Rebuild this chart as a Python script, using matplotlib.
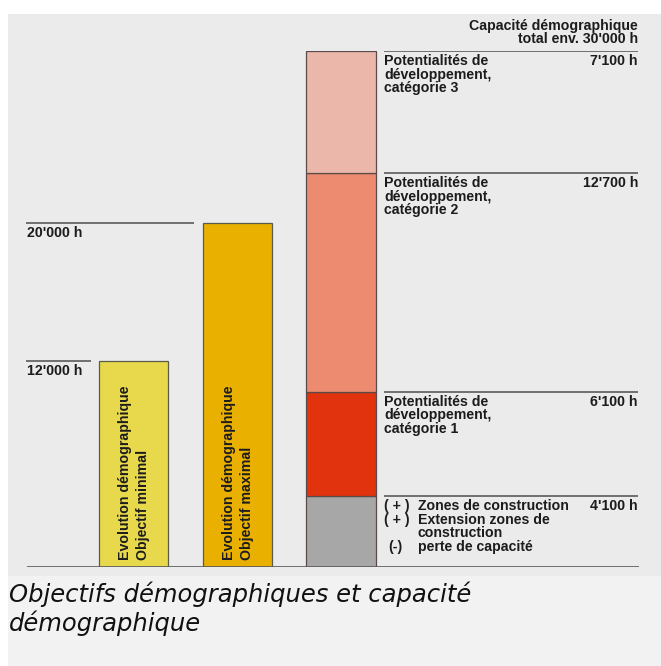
import matplotlib
matplotlib.use("Agg")
import matplotlib.pyplot as plt
import matplotlib.transforms as mtransforms
from matplotlib.patches import Rectangle

# ---- data -------------------------------------------------------------
goal_labels = [("Evolution démographique", "Objectif minimal"),
               ("Evolution démographique", "Objectif maximal")]
goal_values = [12000, 20000]
goal_ticks = ["12'000 h", "20'000 h"]
goal_colors = ["#e8d84c", "#e9b000"]

capacity_values = [4100, 6100, 12700, 7100]
capacity_colors = ["#a7a7a7", "#e2330f", "#ec8b6f", "#ebb7aa"]
capacity_values_text = ["4'100 h", "6'100 h", "12'700 h", "7'100 h"]
capacity_labels = [
    None,
    ["Potentialités de", "développement,", "catégorie 1"],
    ["Potentialités de", "développement,", "catégorie 2"],
    ["Potentialités de", "développement,", "catégorie 3"],
]
zone_prefix = ["( + )", "( + )", "", "(-)"]
zone_lines = ["Zones de construction", "Extension zones de", "construction",
              "perte de capacité"]
total_title = ["Capacité démographique", "total env. 30'000 h"]
caption = ["Objectifs démographiques et capacité", "démographique"]

# ---- figure -----------------------------------------------------------
W, H = 661, 666
fig = plt.figure(figsize=(W / 100, H / 100), dpi=100)
fig.patch.set_facecolor("white")

# background panels
fig.patches.append(Rectangle((8 / W, 1 - 576 / H), 1 - 8 / W, (576 - 14) / H,
                             transform=fig.transFigure, facecolor="#ebebeb",
                             edgecolor="none", zorder=-2))
fig.patches.append(Rectangle((8 / W, 0), 1 - 8 / W, (H - 576) / H,
                             transform=fig.transFigure, facecolor="#f2f2f2",
                             edgecolor="none", zorder=-2))

y_base, y_top = 567, 51
ax = fig.add_axes([0, (H - y_base) / H, 1, (y_base - y_top) / H])
ax.set_zorder(1)
ax.set_xlim(0, W)
ax.set_ylim(0, 30000)
ax.axis("off")
ax.patch.set_alpha(0)

ink = "#1c1c1c"
rule = "#5a5a5a"
font = dict(family="Liberation Sans", weight="bold", color=ink, fontsize=10.2)


def off(dx, dy):
    return mtransforms.offset_copy(ax.transData, fig=fig, x=dx, y=dy, units="dots")


# goal bars
goal_x = [133.5, 237.5]
ax.bar(goal_x, goal_values, width=69, color=goal_colors, edgecolor="#5a5a4a",
       linewidth=0.9, zorder=2)
line_ends = [91, 194]
for x, v, t, xe, (l1, l2) in zip(goal_x, goal_values, goal_ticks, line_ends, goal_labels):
    ax.hlines(v, 26, xe, color=rule, linewidth=1.2, zorder=3)
    ax.text(27, v, t, transform=off(0, -3), ha="left", va="top", **font)
    ax.text(x - 8, 0, l1, rotation=90, transform=off(0, 7), ha="center", va="bottom", **font)
    ax.text(x + 10, 0, l2, rotation=90, transform=off(0, 7), ha="center", va="bottom", **font)

# stacked capacity bar
cap_x = 341
bottom = 0
tops = []
for v, c in zip(capacity_values, capacity_colors):
    ax.bar(cap_x, v, width=70, bottom=bottom, color=c, edgecolor="#5a4a48",
           linewidth=0.9, zorder=2)
    bottom += v
    tops.append(bottom)

lx0, lx1 = 384, 638
for i, v in enumerate(capacity_values):
    seg_top = tops[i]
    ax.hlines(seg_top, lx0, lx1, color=rule, linewidth=1.2, zorder=3)
    ax.text(lx1, seg_top, capacity_values_text[i], transform=off(0, -3),
            ha="right", va="top", **font)
    if capacity_labels[i]:
        for k, line in enumerate(capacity_labels[i]):
            ax.text(lx0, seg_top, line, transform=off(0, -3 - 13.5 * k),
                    ha="left", va="top", **font)

# building zone notes under the first segment
for k, (p, line) in enumerate(zip(zone_prefix, zone_lines)):
    if p:
        px = lx0 + (4 if p == "(-)" else 0)
        ax.text(px, tops[0], p, transform=off(0, -3 - 13.5 * k),
                ha="left", va="top", **font)
    ax.text(418, tops[0], line, transform=off(0, -3 - 13.5 * k),
            ha="left", va="top", **font)

# overall total above the stack
ax.text(lx1, tops[-1], total_title[0], transform=off(0, 21), ha="right",
        va="baseline", **font)
ax.text(lx1, tops[-1], total_title[1], transform=off(0, 8), ha="right",
        va="baseline", **font)

# baseline
ax.hlines(0, 27, 639, color=rule, linewidth=1.2, zorder=3)

# caption
fig.text(9 / W, 1 - 602 / H, caption[0], family="DejaVu Sans", style="italic",
         fontsize=17.5, color="#111111", va="baseline", ha="left")
fig.text(9 / W, 1 - 631 / H, caption[1], family="DejaVu Sans", style="italic",
         fontsize=17.5, color="#111111", va="baseline", ha="left")

fig.savefig("out.png", dpi=100, facecolor=fig.get_facecolor())
